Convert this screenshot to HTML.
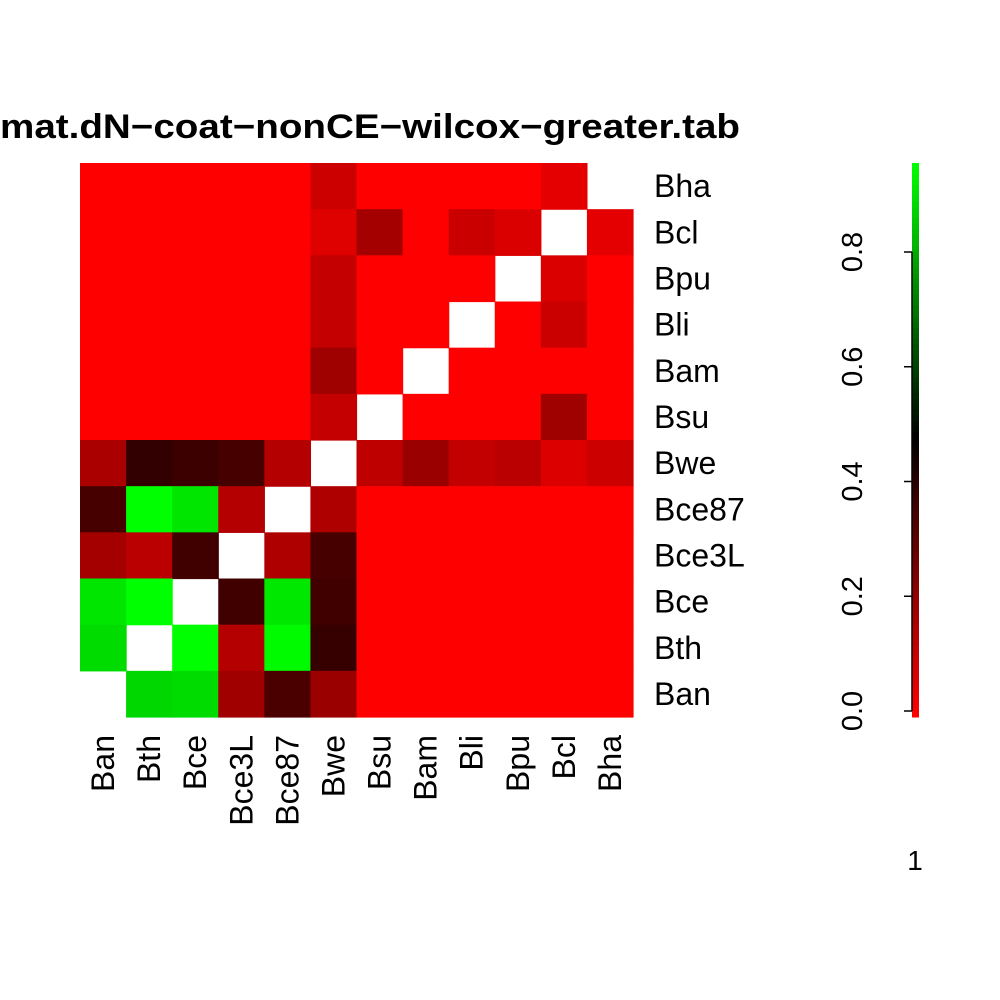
<!DOCTYPE html>
<html><head><meta charset="utf-8"><style>
html,body{margin:0;padding:0;background:#fff}
svg{display:block;font-family:"Liberation Sans",sans-serif}
</style></head><body>
<svg id="chart" width="1000" height="1000" viewBox="0 0 1000 1000">
<text x="370" y="138" text-anchor="middle" font-size="34" font-weight="bold" textLength="740" lengthAdjust="spacingAndGlyphs">mat.dN−coat−nonCE−wilcox−greater.tab</text>
<g id="cells"></g><g id="rowlabels"></g><g id="collabels"></g><g id="cbar"></g>
<text x="915" y="870" text-anchor="middle" font-size="28">1</text>
</svg>
<script>
const cols = ["Ban","Bth","Bce","Bce3L","Bce87","Bwe","Bsu","Bam","Bli","Bpu","Bcl","Bha"];
const rows = ["Bha","Bcl","Bpu","Bli","Bam","Bsu","Bwe","Bce87","Bce3L","Bce","Bth","Ban"];
const N = null;
const rBha  = [0,0,0,0,0,0.094,0,0,0,0,0.05,N];
const rBcl  = [0,0,0,0,0,0.06,0.17,0,0.1,0.07,N,0.05];
const rBpu  = [0,0,0,0,0,0.11,0,0,0,N,0.07,0];
const rBli  = [0,0,0,0,0,0.11,0,0,N,0,0.1,0];
const rBam  = [0,0,0,0,0,0.18,0,N,0,0,0,0];
const rBsu  = [0,0,0,0,0,0.11,N,0,0,0,0.18,0];
const rBwe  = [0.16,0.384,0.366,0.347,0.14,N,0.122,0.187,0.112,0.13,0.066,0.094];
const rBce87= [0.347,0.955,0.908,0.14,N,0.15,0,0,0,0,0,0];
const rBce3L= [0.169,0.13,0.356,N,0.15,0.347,0,0,0,0,0,0];
const rBce  = [0.908,0.955,N,0.356,0.91,0.356,0,0,0,0,0,0];
const rBth  = [0.89,N,0.955,0.14,0.945,0.375,0,0,0,0,0,0];
const rBan  = [N,0.88,0.89,0.178,0.337,0.187,0,0,0,0,0,0];
const values = [rBha,rBcl,rBpu,rBli,rBam,rBsu,rBwe,rBce87,rBce3L,rBce,rBth,rBan];
const cbTicks = [0,0.2,0.4,0.6,0.8];
const cbTickLabels = ["0.0","0.2","0.4","0.6","0.8"];
const vMin = 0, vMax = 0.955;

const NS="http://www.w3.org/2000/svg";
const x0=80,x1=633,y0=163,y1=717;
const cw=(x1-x0)/cols.length, ch=(y1-y0)/rows.length;
const xPos=i=>x0+i*cw, yPos=j=>y0+j*ch;
const mid=(vMin+vMax)/2;
function color(v){
  if(v<=mid){const r=Math.round(255*(1-(v-vMin)/(mid-vMin)));return `rgb(${r},0,0)`;}
  const g=Math.round(255*Math.min(1,(v-mid)/(vMax-mid)));return `rgb(0,${g},0)`;
}
function mk(tag,attrs,parent,text){const e=document.createElementNS(NS,tag);for(const k in attrs)e.setAttribute(k,attrs[k]);if(text!==undefined)e.textContent=text;parent.appendChild(e);return e;}
const gc=document.getElementById('cells');
rows.forEach((rn,j)=>cols.forEach((cn,i)=>{
  const v=values[j][i]; if(v===null)return;
  const r=mk('rect',{x:xPos(i),y:yPos(j),width:cw+0.6,height:ch+0.6,fill:color(v)},gc);
  
  
}));
const gr=document.getElementById('rowlabels');
rows.forEach((rn,j)=>{
  const t=mk('text',{x:654,y:yPos(j)+ch/2+11,'font-size':32},gr,rn);
  
  
});
const gl=document.getElementById('collabels');
cols.forEach((cn,i)=>{
  const cx=xPos(i)+cw/2+11;
  const t=mk('text',{x:cx,y:735,'font-size':32,'text-anchor':'end',transform:`rotate(-90 ${cx} 735)`},gl,cn);
  
  
});
const gb=document.getElementById('cbar');
const cbTop=163,cbBot=717,yv0=711,yv08=252;
const cbY=v=>yv0+(yv08-yv0)*(v/0.8);
const steps=100;
for(let k=0;k<steps;k++){
  const va=vMin+(vMax-vMin)*k/steps, vb=vMin+(vMax-vMin)*(k+1)/steps;
  const ya=k===0?cbBot:cbY(va), yb=k===steps-1?cbTop:cbY(vb);
  const r=mk('rect',{x:912,y:yb,width:7,height:ya-yb+0.5,fill:color((va+vb)/2)},gb);
  
  
}
cbTicks.forEach((v,k)=>{
  const y=cbY(v);
  const l=mk('line',{x1:904,x2:912,y1:y,y2:y,stroke:'#000','stroke-width':1.5},gb);
  
  
  const t=mk('text',{x:862,y:y,'font-size':29,'text-anchor':'middle',transform:`rotate(-90 862 ${y})`},gb,cbTickLabels[k]);
  
  
});
const ax=mk('line',{x1:912,x2:912,y1:cbY(0),y2:cbY(0.8),stroke:'#000','stroke-width':1.5},gb);


</script>
</body></html>
